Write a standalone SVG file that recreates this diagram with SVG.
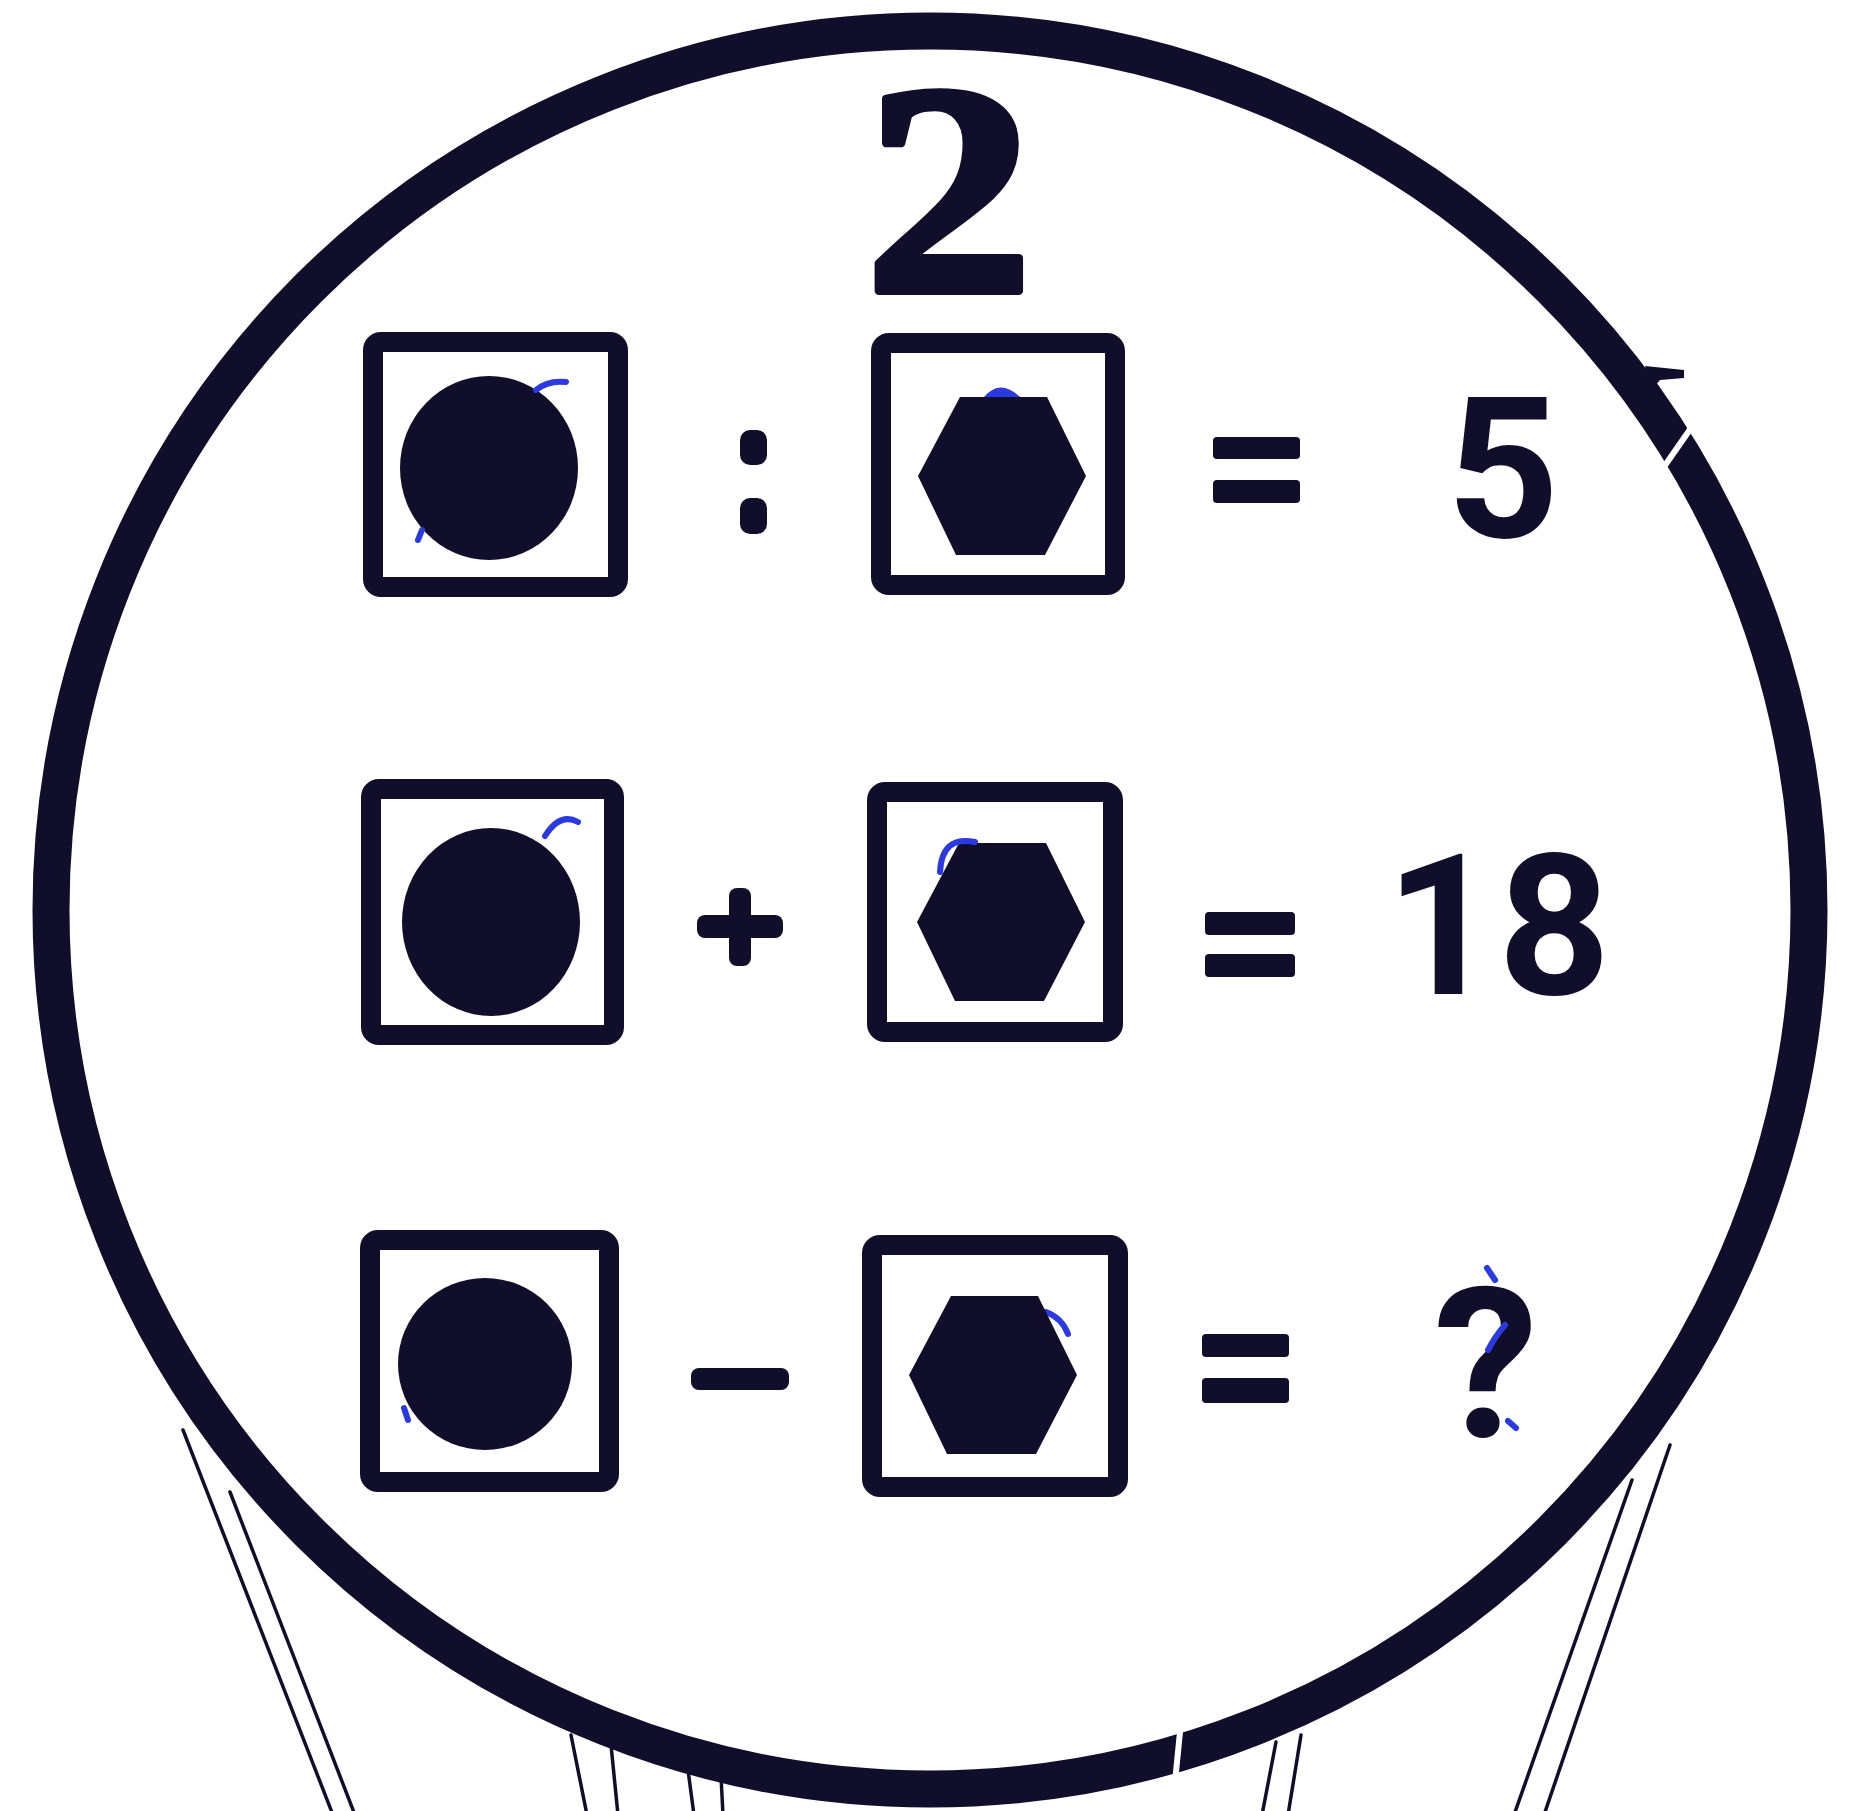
<svg xmlns="http://www.w3.org/2000/svg" xmlns:xlink="http://www.w3.org/1999/xlink" width="1857" height="1811" viewBox="0 0 1857 1811">
<style>
.ink{fill:#110e2c}
.box{fill:none;stroke:#110e2c;stroke-width:20}
.rope{fill:none;stroke:#110e2c;stroke-width:3.5;stroke-linecap:round}
.blue{fill:none;stroke:#2a3ae0;stroke-width:6;stroke-linecap:round}
.num{font-weight:700;font-size:196px;fill:#110e2c;text-anchor:middle}
.title{font-weight:700;font-size:300px;fill:#110e2c;stroke:#110e2c;stroke-width:8;stroke-linejoin:round;text-anchor:middle}
</style>
<defs>
<polygon id="hex" points="-42,-79 45,-79 84,0 43,79 -46,79 -84,0"/>
</defs>
<rect width="1857" height="1811" fill="#ffffff"/>

<g id="ropes">
<line class="rope" x1="183" y1="1430" x2="333" y2="1815"/>
<line class="rope" x1="230" y1="1492" x2="355" y2="1815"/>
<line class="rope" x1="1632" y1="1480" x2="1514" y2="1815"/>
<line class="rope" x1="1670" y1="1445" x2="1544" y2="1815"/>
<line class="rope" x1="571" y1="1735" x2="587" y2="1815" stroke-width="4.5"/>
<line class="rope" x1="611" y1="1745" x2="618" y2="1815" stroke-width="4.5"/>
<line class="rope" x1="688" y1="1770" x2="694" y2="1815" stroke-width="4.5"/>
<line class="rope" x1="721" y1="1776" x2="723" y2="1815" stroke-width="4.5"/>
<line class="rope" x1="1276" y1="1742" x2="1262" y2="1815" stroke-width="4.5"/>
<line class="rope" x1="1301" y1="1735" x2="1288" y2="1815" stroke-width="4.5"/>
</g>

<g id="balloon">
<circle cx="930" cy="910" r="879" fill="none" stroke="#110e2c" stroke-width="37"/>
<line x1="1652" y1="484" x2="1698" y2="418" stroke="#ffffff" stroke-width="6"/>
<polygon class="ink" points="1645,366 1684,370 1684,378 1660,380 1650,392"/>
<line x1="1181" y1="1722" x2="1174" y2="1792" stroke="#ffffff" stroke-width="6"/>
</g>

<g id="title">
<text class="title" font-family="Liberation Serif, DejaVu Serif, serif" x="949" y="291" transform="translate(949 0) scale(1.12 1) translate(-949 0)">2</text>
</g>

<g id="row1">
<g id="r1-circle-box">
<rect class="box" x="373" y="342" width="245" height="245" rx="8"/>
<ellipse class="ink" cx="489" cy="468" rx="89" ry="92"/>
<path class="blue" d="M536,390 Q548,380 566,382"/>
<path class="blue" d="M418,540 L422,530"/>
</g>
<g id="r1-op">
<rect class="ink" x="740" y="430" width="27" height="35" rx="10"/>
<rect class="ink" x="740" y="498" width="27" height="36" rx="10"/>
</g>
<g id="r1-hex-box">
<rect class="box" x="881" y="343" width="234" height="242" rx="8"/>
<path d="M984,397 Q1000,378 1020,397 Z" fill="#2a3ae0"/>
<use xlink:href="#hex" x="1002" y="476" class="ink"/>
</g>
<g id="r1-eq">
<rect class="ink" x="1213" y="437" width="87" height="22" rx="4"/>
<rect class="ink" x="1213" y="480" width="87" height="23" rx="4"/>
</g>
<text class="num" font-family="Roboto, Open Sans, Lato, sans-serif" x="1503" y="537">5</text>
</g>

<g id="row2">
<g id="r2-circle-box">
<rect class="box" x="371" y="789" width="243" height="246" rx="8"/>
<ellipse class="ink" cx="491" cy="922" rx="89" ry="94"/>
<path class="blue" d="M545,836 Q560,812 578,822"/>
</g>
<g id="r2-op">
<rect class="ink" x="697" y="915" width="86" height="23" rx="8"/>
<rect class="ink" x="729" y="888" width="22" height="78" rx="8"/>
</g>
<g id="r2-hex-box">
<rect class="box" x="877" y="792" width="236" height="240" rx="8"/>
<use xlink:href="#hex" x="1001" y="922" class="ink"/>
<path class="blue" d="M940,872 Q942,835 975,842"/>
</g>
<g id="r2-eq">
<rect class="ink" x="1205" y="912" width="90" height="23" rx="4"/>
<rect class="ink" x="1205" y="954" width="90" height="23" rx="4"/>
</g>
<text class="num" font-family="Roboto, Open Sans, Lato, sans-serif" x="1498" y="994">18</text>
</g>

<g id="row3">
<g id="r3-circle-box">
<rect class="box" x="370" y="1240" width="239" height="242" rx="8"/>
<ellipse class="ink" cx="485" cy="1364" rx="87" ry="86"/>
<path class="blue" d="M404,1408 L408,1420"/>
</g>
<g id="r3-op">
<rect class="ink" x="691" y="1368" width="98" height="22" rx="8"/>
</g>
<g id="r3-hex-box">
<rect class="box" x="872" y="1245" width="246" height="242" rx="8"/>
<path class="blue" d="M1046,1312 Q1062,1318 1068,1334"/>
<use xlink:href="#hex" x="993" y="1375" class="ink"/>
</g>
<g id="r3-eq">
<rect class="ink" x="1202" y="1334" width="87" height="23" rx="4"/>
<rect class="ink" x="1202" y="1378" width="87" height="25" rx="4"/>
</g>
<text class="num" font-family="Roboto, Open Sans, Lato, sans-serif" x="1486" y="1437" style="font-size:210px">?</text>
<path class="blue" d="M1487,1268 L1495,1280"/>
<path class="blue" d="M1488,1350 Q1496,1335 1505,1325"/>
<path class="blue" d="M1508,1421 L1516,1428"/>
</g>
</svg>
